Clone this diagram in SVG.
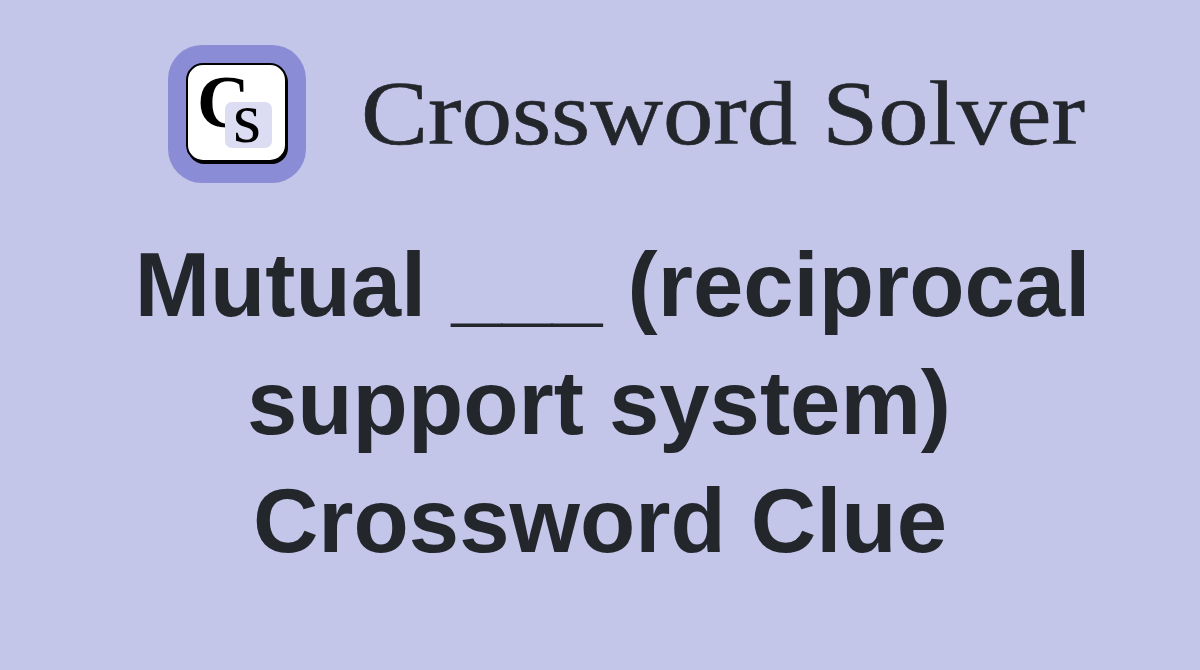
<svg xmlns="http://www.w3.org/2000/svg" width="1200" height="670" viewBox="0 0 1200 670">
<style>
.t{font-family:"Liberation Sans",Arial,sans-serif;font-weight:700;font-size:90.5px;fill:#23272c;text-anchor:middle}
.b{font-family:"Liberation Serif","Times New Roman",serif;fill:#23272c;stroke:#23272c;stroke-width:.6}
.l{font-family:"Liberation Serif","Times New Roman",serif;fill:#000}
</style>
<rect width="1200" height="670" fill="#c3c5e9"/>
<g id="logo">
<rect x="168" y="45" width="138" height="138" rx="34" fill="#8a8cd5"/>
<rect x="188" y="66" width="100" height="98" rx="16" fill="#000"/>
<rect x="187" y="64" width="99" height="97" rx="16" fill="#fff" stroke="#000" stroke-width="2"/>
<text class="l" x="197" y="127" font-size="73" font-weight="700">C</text>
<rect x="225" y="102" width="47" height="46" rx="7" fill="#dcdcf2"/>
<text class="l" x="233" y="142" font-size="72" fill="#111">s</text>
</g>
<g id="brand"><text class="b" x="361" y="144" font-size="90" textLength="724" lengthAdjust="spacingAndGlyphs">Crossword Solver</text></g>
<g id="title">
<text class="t" x="612.5" y="316">Mutual ___ (reciprocal</text>
<text class="t" x="599" y="434">support system)</text>
<text class="t" x="600" y="552">Crossword Clue</text>
</g>
</svg>
